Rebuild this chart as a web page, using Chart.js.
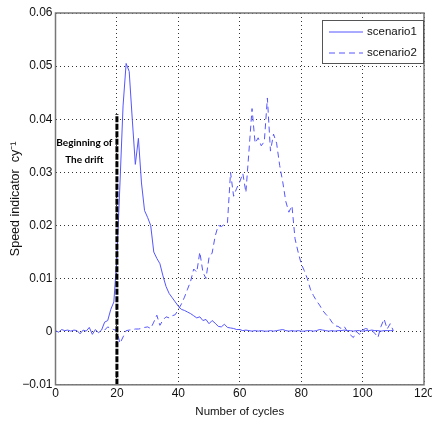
<!DOCTYPE html>
<html>
<head>
<meta charset="utf-8">
<script src="https://cdn.jsdelivr.net/npm/chart.js@4"></script>
<style>
  html, body { margin: 0; padding: 0; background: #fff; overflow: hidden; }
  #wrap { width: 432px; height: 421px; position: relative; }
</style>
</head>
<body>
<div id="wrap"><canvas id="myChart"></canvas></div>
<script>
//Scenario1 starts at cycle 0, one value per cycle
const scenario1Start = 0;
const scenario1 = [
  0.0002, -0.0001, 0.0004, 0.0002, 0.0003, 0.0001, 0.0003, 0.0002, -0.0004, 0.0003,
  0.0001, 0.0008, -0.0005, 0.0004, -0.0002, 0.0003, 0.0018, 0.0021, 0.0042, 0.0056,
  0.0140, 0.0280, 0.0425, 0.0505, 0.0490, 0.0400, 0.0315, 0.0364, 0.0280, 0.0228,
  0.0215, 0.0200, 0.0150, 0.0138, 0.0128, 0.0105, 0.0085, 0.0072, 0.0064, 0.0056,
  0.0048, 0.0042, 0.0040, 0.0037, 0.0034, 0.0030, 0.0026, 0.0028, 0.0021, 0.0023,
  0.0015, 0.0021, 0.0016, 0.0010, 0.0009, 0.0014, 0.0008, 0.0007, 0.0006, 0.0004,
  0.0004, 0.0002, 0.0003, 0.0002, 0.0001, 0.0002, 0.0001, 0.0002, 0.0001, 0.0001,
  0.0002, 0.0001, 0.0002, 0.0003, 0.0004, 0.0002, 0.0001, 0.0002, 0.0001, 0.0002,
  0.0001, 0.0001, 0.0002, 0.0002, 0.0001, 0.0002, 0.0004, 0.0003, 0.0002, 0.0001,
  0.0002, 0.0001, 0.0002, 0.0002, 0.0003, 0.0002, 0.0002, 0.0001, 0.0002, 0.0002,
  0.0001, 0.0002, 0.0002, 0.0003, 0.0002, 0.0002, 0.0001, 0.0002, 0.0002, 0.0002,
  0.0002
];

//Scenario2 starts at cycle 16
const scenario2Start = 16;
const scenario2 = [
  0.0003, 0.0009, 0.0006, 0.0004, 0.0002, -0.0022, -0.0010, 0.0002, 0.0003, 0.0004,
  0.0005, 0.0005, 0.0006, 0.0008, 0.0009, 0.0006, 0.0018, 0.0031, 0.0012, 0.0022,
  0.0028, 0.0026, 0.0030, 0.0032, 0.0042, 0.0052, 0.0065, 0.0080, 0.0095, 0.0118,
  0.0112, 0.0150, 0.0112, 0.0100, 0.0140, 0.0148, 0.0180, 0.0200, 0.0198, 0.0202,
  0.0205, 0.0300, 0.0255, 0.0270, 0.0282, 0.0298, 0.0262, 0.0340, 0.0420, 0.0355,
  0.0365, 0.0350, 0.0358, 0.0440, 0.0340, 0.0372, 0.0355, 0.0313, 0.0282, 0.0245,
  0.0225, 0.0237, 0.0175, 0.0150, 0.0128, 0.0115, 0.0100, 0.0080, 0.0068, 0.0058,
  0.0050, 0.0040, 0.0033, 0.0027, 0.0018, 0.0011, 0.0010, 0.0006, 0.0010, 0.0001,
  -0.0006, -0.0011, 0.0000, -0.0005, 0.0003, 0.0006, 0.0004, 0.0002, -0.0003, -0.0011,
  0.0010, 0.0024, 0.0005, 0.0015, 0.0002
];

//Start of the drift (vertical marker)
const driftCycle = 20;
const driftRange = [-0.01, 0.041];

//Note next to the marker
const noteLines = ['Beginning of', 'The drift'];
const noteCycle = 9.4;
const noteY = [0.0356, 0.0324];

const seriesNames = ['scenario1', 'scenario2'];

const xTicks = [0, 20, 40, 60, 80, 100, 120];
const yTicks = [-0.01, 0, 0.01, 0.02, 0.03, 0.04, 0.05, 0.06];

const BLUE = 'rgb(85, 85, 255)';
const FONT = "'Liberation Sans', Arial, sans-serif";

function toPoints(values, start) {
  let pts = [];
  for (let i = 0; i < values.length; i++) {
    pts.push({ x: start + i, y: values[i] });
  }
  return pts;
}

const data = {
  datasets: [
    {
      label: seriesNames[0],
      data: toPoints(scenario1, scenario1Start),
      borderColor: BLUE,
      borderWidth: 1,
      pointRadius: 0,
      order: 2
    },
    {
      label: seriesNames[1],
      data: toPoints(scenario2, scenario2Start),
      borderColor: BLUE,
      borderWidth: 1,
      borderDash: [6, 4],
      pointRadius: 0,
      order: 3
    },
    {
      label: 'drift',
      data: [{ x: driftCycle, y: driftRange[0] }, { x: driftCycle, y: driftRange[1] }],
      borderColor: '#000',
      borderWidth: 3,
      borderDash: [6, 1.5],
      pointRadius: 0,
      order: 1
    }
  ]
};

//frame around plot, note text and legend box inside the plot
const extras = {
  id: 'extras',
  afterDatasetsDraw(chart) {
    const ctx = chart.ctx;
    const area = chart.chartArea;
    const xs = chart.scales.x;
    const ys = chart.scales.y;
    ctx.save();

    // note
    ctx.fillStyle = '#000';
    ctx.font = "bold 10px Lato, sans-serif";
    ctx.textAlign = 'center';
    ctx.textBaseline = 'middle';
    for (let i = 0; i < noteLines.length; i++) {
      ctx.fillText(noteLines[i], xs.getPixelForValue(noteCycle), ys.getPixelForValue(noteY[i]));
    }

    // frame
    ctx.strokeStyle = '#777';
    ctx.lineWidth = 1.5;
    ctx.setLineDash([]);
    ctx.strokeRect(area.left, area.top, area.right - area.left, area.bottom - area.top);

    // legend
    const bw = 102, bh = 44;
    const bx = area.right - bw, by = area.top + 7;
    ctx.fillStyle = '#fff';
    ctx.fillRect(bx, by, bw, bh);
    ctx.strokeStyle = '#555';
    ctx.lineWidth = 1;
    ctx.strokeRect(bx + 0.5, by + 0.5, bw - 1, bh - 1);
    ctx.font = "11.5px " + FONT;
    ctx.textAlign = 'left';
    for (let i = 0; i < 2; i++) {
      const ds = chart.data.datasets[i];
      const ly = by + 12 + i * 21;
      ctx.strokeStyle = ds.borderColor;
      ctx.setLineDash(ds.borderDash || []);
      ctx.beginPath();
      ctx.moveTo(bx + 7, ly);
      ctx.lineTo(bx + 41, ly);
      ctx.stroke();
      ctx.fillStyle = '#111';
      ctx.fillText(ds.label, bx + 45, ly);
    }
    ctx.restore();
  }
};

const config = {
  type: 'line',
  data: data,
  options: {
    responsive: true,
    maintainAspectRatio: false,
    animation: false,
    layout: { padding: { top: 13, right: 8, bottom: 2, left: 8 } },
    plugins: {
      legend: { display: false },
      tooltip: { enabled: false }
    },
    scales: {
      x: {
        type: 'linear',
        min: 0,
        max: 120,
        afterBuildTicks: (s) => { s.ticks = xTicks.map(v => ({ value: v })); },
        afterFit: (s) => { s.paddingRight = 0; s.paddingLeft = 0; },
        ticks: { color: '#111', font: { size: 12, family: FONT }, padding: 2, maxRotation: 0 },
        grid: { color: '#333', lineWidth: 1, tickLength: 0, drawTicks: false },
        border: { display: false, dash: [1, 3] },
        title: { display: true, text: 'Number of cycles', color: '#111', font: { size: 11.5, family: FONT }, padding: { top: 2, bottom: 0 } }
      },
      y: {
        min: -0.01,
        max: 0.06,
        afterBuildTicks: (s) => { s.ticks = yTicks.map(v => ({ value: v })); },
        afterFit: (s) => { s.width = 47.5; },
        ticks: {
          color: '#111',
          font: { size: 12, family: FONT },
          padding: 3,
          callback: (v) => v === 0 ? '0' : (v < 0 ? '\u2212' + Math.abs(v).toFixed(2) : v.toFixed(2))
        },
        grid: { color: '#333', lineWidth: 1, drawTicks: false },
        border: { display: false, dash: [1, 3] },
        title: { display: true, text: 'Speed indicator  cy\u207B\u00B9', color: '#111', font: { size: 12.5, family: FONT }, padding: { top: 0, bottom: 2 } }
      }
    }
  },
  plugins: [extras]
};

const myChart = new Chart(document.getElementById('myChart'), config);
</script>
</body>
</html>
